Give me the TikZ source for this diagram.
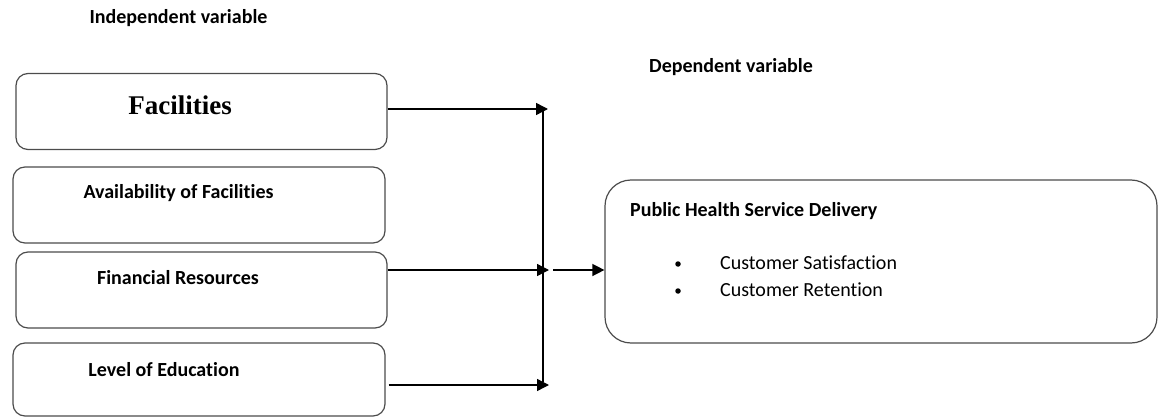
\documentclass[tikz,border=0pt]{standalone}
\usepackage{fontspec}
\setmainfont{Carlito}[Ligatures=NoCommon]
\newfontfamily\timesfont{Liberation Serif}
\usetikzlibrary{arrows.meta}
\begin{document}
\begin{tikzpicture}[x=1pt,y=-1pt,
  varbox/.style={draw=black!70,line width=1.2pt,rounded corners=12pt,minimum width=371pt,minimum height=76pt,inner sep=0pt},
  bigbox/.style={draw=black!70,line width=1.2pt,rounded corners=26pt,minimum width=552pt,minimum height=163pt,inner sep=0pt},
  lbl/.style={font=\fontsize{20}{24}\selectfont\bfseries,inner sep=0pt},
  item/.style={font=\fontsize{20}{24}\selectfont,inner sep=0pt,anchor=west},
  dot/.style={circle,fill=black,inner sep=0pt,minimum size=5.5pt},
  conn/.style={line width=1.4pt,-{Triangle[length=12pt,width=12pt]}},
  vline/.style={line width=1.4pt}]
\useasboundingbox (0,0) rectangle (1159,417);
% headings
\node[lbl] (indep) at (178.5,18) {Independent variable};
\node[lbl] (dep) at (731,67) {Dependent variable};
% left boxes
\node[varbox] (fac) at (201.5,111.5) {};
\node[varbox,minimum width=372pt] (ava) at (199,205) {};
\node[varbox] (fin) at (201.5,290) {};
\node[varbox,minimum width=372pt,minimum height=73pt] (lev) at (199,379.5) {};
\node[font=\timesfont\fontsize{27}{30}\selectfont\bfseries,inner sep=0pt] (factxt) at (180,105) {Facilities};
\node[lbl] (avatxt) at (178.5,193) {Availability of Facilities};
\node[lbl] (fintxt) at (178,278) {Financial Resources};
\node[lbl] (levtxt) at (164,370) {Level of Education};
% right box
\node[bigbox] (pub) at (881,261.5) {};
\node[lbl,anchor=west] (pubtxt) at (630,211) {Public Health Service Delivery};
\node[dot] (b1) at (678,264) {};
\node[dot] (b2) at (678,291) {};
\node[item] (it1) at (720,263) {Customer Satisfaction};
\node[item] (it2) at (720,290) {Customer Retention};
% junction coordinates
\coordinate (j1) at (548,109);
\coordinate (j2) at (549,270);
\coordinate (j3) at (549,385);
\coordinate (vtop) at (543,109);
\coordinate (vbot) at (543,382);
\coordinate (out) at (553,270);
% connectors
\draw[vline] (vtop) -- (vbot);
\draw[conn] (fac.east |- j1) -- (j1);
\draw[conn] (fin.east |- j2) -- (j2);
\draw[conn] ([xshift=3pt]lev.east |- j3) -- (j3);
\draw[conn] (out) -- (pub.west |- out);
\end{tikzpicture}
\end{document}
